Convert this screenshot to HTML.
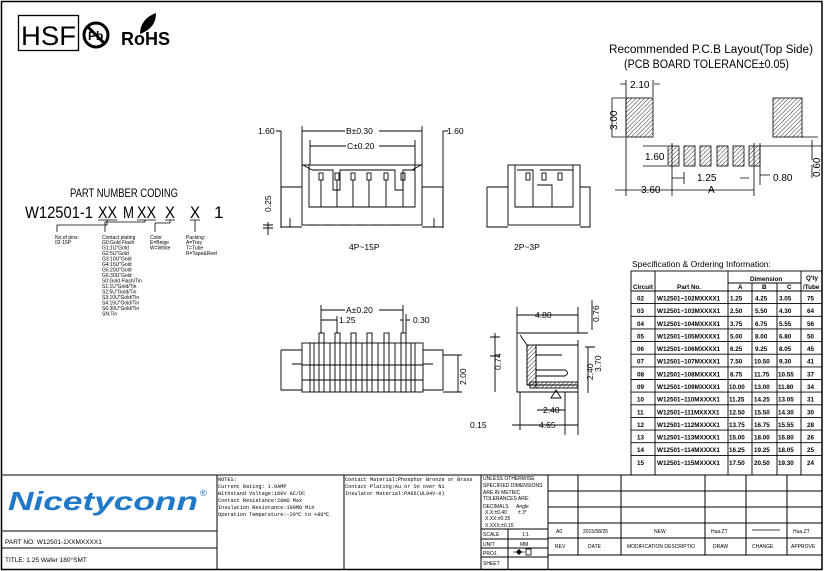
<!DOCTYPE html>
<html><head><meta charset="utf-8"><style>
html,body{margin:0;padding:0;background:#fff}
svg{display:block}
text{font-family:"Liberation Sans",sans-serif;fill:#000}
.m{font-family:"Liberation Mono",monospace;font-size:5.2px}
.d{font-size:8.5px}
.t{font-size:6.3px;font-weight:bold}
.s{font-size:5px}
</style></head><body>
<svg width="826" height="571" viewBox="0 0 826 571" xmlns="http://www.w3.org/2000/svg">
<defs>
<pattern id="h" width="3" height="3" patternUnits="userSpaceOnUse" patternTransform="rotate(45)"><line x1="0" y1="0" x2="0" y2="3" stroke="#000" stroke-width="0.8"/></pattern>
</defs>
<g fill="none" stroke="#000">
<rect x="1.5" y="1.5" width="820.5" height="568" stroke-width="1.5"/>
</g>
<!-- logos -->
<rect x="18.5" y="15.5" width="60" height="35" fill="none" stroke="#000" stroke-width="1.3"/>
<text x="21" y="45" style="font-size:27px" textLength="55" lengthAdjust="spacingAndGlyphs">HSF</text>
<circle cx="96" cy="35" r="12" fill="none" stroke="#000" stroke-width="3"/>
<text x="88" y="40" style="font-size:12px;font-weight:bold">Pb</text>
<line x1="88" y1="27" x2="104" y2="43" stroke="#000" stroke-width="3"/>
<text x="121" y="45" style="font-size:18px;font-weight:bold">RoHS</text>
<path d="M140 34 C140 22 148 16 156 13 C156 24 150 30 140 34Z" fill="#000"/>

<!-- PCB layout -->
<text x="609" y="53" style="font-size:11.5px" textLength="204" lengthAdjust="spacingAndGlyphs">Recommended P.C.B Layout(Top Side)</text>
<text x="624" y="68" style="font-size:11.5px" textLength="165" lengthAdjust="spacingAndGlyphs">(PCB BOARD TOLERANCE±0.05)</text>
<g stroke="#000" stroke-width="0.8">
<rect x="626" y="98" width="27" height="39" fill="url(#h)"/>
<rect x="773" y="98" width="29" height="39" fill="url(#h)"/>
<rect x="668" y="146" width="11" height="20" fill="url(#h)"/>
<rect x="684" y="146" width="11" height="20" fill="url(#h)"/>
<rect x="700" y="146" width="11" height="20" fill="url(#h)"/>
<rect x="717" y="146" width="11" height="20" fill="url(#h)"/>
<rect x="733" y="146" width="11" height="20" fill="url(#h)"/>
<rect x="749" y="146" width="11" height="20" fill="url(#h)"/>
<path d="M626 80V196M653 80V97M612 98H625M612 137H625M612 98V137M654 84H660M620 84H626M643 146H667M643 166H667M672 143V196M754 143V196M760 143V185M672 178H684M684 172V184M760 175H770M740 178H749M615 190H626M626 190H672M672 190H754M760 146H822M802 137H818M812 140V160M812 165V178" fill="none"/>
</g>
<text x="630" y="88" class="d" style="font-size:10px">2.10</text>
<text x="0" y="0" class="d" style="font-size:10px" transform="translate(617,130) rotate(-90)">3.00</text>
<text x="645" y="160" class="d" style="font-size:10px">1.60</text>
<text x="697" y="181" class="d" style="font-size:10px">1.25</text>
<text x="773" y="181" class="d" style="font-size:10px">0.80</text>
<text x="641" y="193" class="d" style="font-size:10px">3.60</text>
<text x="708" y="193" class="d" style="font-size:10px">A</text>
<text x="0" y="0" class="d" style="font-size:10px" transform="translate(820,177) rotate(-90)">0.60</text>

<!-- front view -->
<g stroke="#000" stroke-width="0.9" fill="none">
<rect x="302" y="165" width="120" height="60"/>
<path d="M309 165V207H415V165M312 170H333V190H340V170H395V190H403V170H415M303 165L312 170M421 165L412 170"/>
<path d="M281 187H302M281 187V227H302M290 218V227M443 187H422M443 187V227H422M434 218V227"/>
<g><rect x="319" y="173" width="4" height="7"/><rect x="335" y="173" width="4" height="7"/><rect x="351" y="173" width="4" height="7"/><rect x="367" y="173" width="4" height="7"/><rect x="384" y="173" width="4" height="7"/><rect x="401" y="173" width="4" height="7"/></g>
<path d="M321 180V207M337 180V207M353 180V207M369 180V207M386 180V207M403 180V207"/>
<path d="M281 131V228M302 126V165M422 126V165M443 131V228M276 131H281M302 131H422M443 131H448M310 140V165M415 140V165M310 146H415M268 222V235M263 228H273M263 225H273"/>
<path d="M308 225h10M324 225h10M340 225h10M356 225h10M373 225h10M390 225h10"/>
</g>
<text x="258" y="134" class="d">1.60</text><text x="447" y="134" class="d">1.60</text>
<rect x="345" y="127" width="34" height="8" fill="#fff"/><text x="346" y="134" class="d">B±0.30</text>
<rect x="346" y="142" width="33" height="8" fill="#fff"/><text x="347" y="149" class="d">C±0.20</text>
<text x="0" y="0" class="d" transform="translate(271,212) rotate(-90)">0.25</text>
<text x="349" y="250" class="d">4P~15P</text>
<!-- 2P~3P -->
<g stroke="#000" stroke-width="0.9" fill="none">
<rect x="508" y="165" width="72" height="60"/>
<path d="M515 165V207H573V165M517 170H533V207M540 170H573M537 185H552V207"/>
<path d="M487 187H508M487 187V227H508M580 187H590V227H580"/>
<rect x="526" y="173" width="4" height="7"/><rect x="542" y="173" width="4" height="7"/><rect x="558" y="173" width="4" height="7"/>
</g>
<text x="514" y="250" class="d">2P~3P</text>

<!-- bottom view -->
<g stroke="#000" stroke-width="0.9" fill="none">
<rect x="302" y="343" width="121" height="49"/>
<path d="M281 350H302M281 350V390H302M292 364H302M423 350H443V390H423M423 364H433"/>
<g><rect x="319" y="333" width="5" height="59"/><rect x="335" y="333" width="5" height="59"/><rect x="351" y="333" width="5" height="59"/><rect x="367" y="333" width="5" height="59"/><rect x="384" y="333" width="5" height="59"/><rect x="401" y="333" width="5" height="59"/></g>
<path d="M310 343V392M314 343V392M330 343V392M346 343V392M362 343V392M378 343V392M395 343V392M411 343V392M415 343V392M302 365H423M302 380H423"/>
<path d="M321 305V333M403 305V333M337 316V333M321 310H403M321 320H337M400 320H403M406 320H410M406 314V333M443 355H462M443 392H462M458 355V392"/>
</g>
<rect x="345" y="306" width="34" height="8" fill="#fff"/><text x="346" y="313" class="d">A±0.20</text>
<text x="339" y="323" class="d">1.25</text><text x="413" y="323" class="d">0.30</text>
<text x="0" y="0" class="d" transform="translate(466,385) rotate(-90)">2.00</text>
<!-- side view -->
<g stroke="#000" stroke-width="0.9" fill="none">
<path d="M517 333H588M517 333V392H578V340M517 307V333M578 307V333M517 315H578M520 335L527 345V385H578M536 345V388"/>
<rect x="527" y="345" width="9" height="40" fill="url(#h)"/>
<rect x="530" y="382" width="48" height="6" fill="url(#h)"/>
<path d="M536 345H578M536 355H562M536 370H565Q570 373 565 376H536M495 333V392M490 337H500M490 356H500M520 392V430M565 392V435M578 392V435M512 425H578M537 410H565M588 347V393M592 300V330M585 347H595"/>
<path d="M551 398L556 390L561 398Z"/>
</g>
<text x="535" y="318" class="d">4.80</text>
<text x="0" y="0" class="d" transform="translate(599,322) rotate(-90)">0.76</text>
<text x="0" y="0" class="d" transform="translate(501,370) rotate(-90)">0.74</text>
<text x="0" y="0" class="d" transform="translate(593,380) rotate(-90)">2.40</text>
<text x="0" y="0" class="d" transform="translate(601,372) rotate(-90)">3.70</text>
<text x="543" y="413" class="d">2.40</text>
<text x="539" y="428" class="d">4.65</text>
<text x="470" y="428" class="d">0.15</text>

<!-- part number coding -->
<text x="70" y="197" style="font-size:11.5px" textLength="108" lengthAdjust="spacingAndGlyphs">PART NUMBER CODING</text>
<text x="25" y="218" style="font-size:17px" textLength="68" lengthAdjust="spacingAndGlyphs">W12501-1</text>
<text x="98" y="218" style="font-size:17px" textLength="19" lengthAdjust="spacingAndGlyphs">XX</text>
<text x="123" y="218" style="font-size:17px" textLength="11" lengthAdjust="spacingAndGlyphs">M</text>
<text x="137" y="218" style="font-size:17px" textLength="19" lengthAdjust="spacingAndGlyphs">XX</text>
<text x="165" y="218" style="font-size:17px" textLength="10" lengthAdjust="spacingAndGlyphs">X</text>
<text x="190" y="218" style="font-size:17px" textLength="10" lengthAdjust="spacingAndGlyphs">X</text>
<text x="214" y="218" style="font-size:17px">1</text>
<g stroke="#000" stroke-width="0.8" fill="none">
<path d="M98 220H117M137 220H156M165 220H175M190 220H200M107 220V225H57V232M145 220V222H105V232M170 220V223H155V232M195 220V232"/>
</g>
<g class="s">
<text x="55" y="239" class="s">No.of pins:</text><text x="55" y="244" class="s">02-15P</text>
<text x="102" y="239" class="s">Contact plating</text>
<text x="102" y="244" class="s">G0:Gold Flash</text>
<text x="102" y="249.5" class="s">G1:1U"Gold</text>
<text x="102" y="255" class="s">G2:5U"Gold</text>
<text x="102" y="260.5" class="s">G3:10U"Gold</text>
<text x="102" y="266" class="s">G4:15U"Gold</text>
<text x="102" y="271.5" class="s">G5:20U"Gold</text>
<text x="102" y="277" class="s">G6:30U"Gold</text>
<text x="102" y="282.5" class="s">S0:Gold Flash/Tin</text>
<text x="102" y="288" class="s">S1:1U"Gold/Tin</text>
<text x="102" y="293.5" class="s">S2:5U"Gold/Tin</text>
<text x="102" y="299" class="s">S3:10U"Gold/Tin</text>
<text x="102" y="304.5" class="s">S4:15U"Gold/Tin</text>
<text x="102" y="310" class="s">S6:30U"Gold/Tin</text>
<text x="102" y="315.5" class="s">SN:Tin</text>
<text x="150" y="239" class="s">Color</text><text x="150" y="244" class="s">E=Beige</text><text x="150" y="249.5" class="s">W=White</text>
<text x="186" y="239" class="s">Packing:</text><text x="186" y="244" class="s">A=Tray</text><text x="186" y="249.5" class="s">T=Tube</text><text x="186" y="255" class="s">R=Tape&amp;Reel</text>
</g>

<!-- spec table -->
<text x="632" y="267" style="font-size:8.5px">Specification &amp; Ordering Information:</text>
<g stroke="#000" stroke-width="0.9" fill="none">
<rect x="631" y="271" width="191" height="204"/>
<path d="M655 271V475M728 271V475M752 283V475M777 283V475M801 271V475M728 283H801M631 291H822"/>
<path d="M631 303.6H822M631 316.3H822M631 328.9H822M631 341.6H822M631 354.2H822M631 366.9H822M631 379.5H822M631 392.1H822M631 404.8H822M631 417.4H822M631 430.1H822M631 442.7H822M631 455.4H822"/>
</g>
<text x="633" y="289" class="t">Circuit</text>
<text x="677" y="289" class="t">Part No.</text>
<text x="750" y="281" class="t">Dimension</text>
<text x="738" y="289" class="t">A</text><text x="762" y="289" class="t">B</text><text x="787" y="289" class="t">C</text>
<text x="806" y="280" class="t">Q'ty</text><text x="803" y="289" class="t">/Tube</text>
<g class="t">
<text x="637" y="300.5" class="t">02</text><text x="657" y="300.5" class="t">W12501−102MXXXX1</text><text x="730" y="300.5" class="t">1.25</text><text x="755" y="300.5" class="t">4.25</text><text x="779" y="300.5" class="t">3.05</text><text x="807" y="300.5" class="t">75</text>
<text x="637" y="313.1" class="t">03</text><text x="657" y="313.1" class="t">W12501−103MXXXX1</text><text x="730" y="313.1" class="t">2.50</text><text x="755" y="313.1" class="t">5.50</text><text x="779" y="313.1" class="t">4.30</text><text x="807" y="313.1" class="t">64</text>
<text x="637" y="325.8" class="t">04</text><text x="657" y="325.8" class="t">W12501−104MXXXX1</text><text x="730" y="325.8" class="t">3.75</text><text x="755" y="325.8" class="t">6.75</text><text x="779" y="325.8" class="t">5.55</text><text x="807" y="325.8" class="t">56</text>
<text x="637" y="338.4" class="t">05</text><text x="657" y="338.4" class="t">W12501−105MXXXX1</text><text x="730" y="338.4" class="t">5.00</text><text x="755" y="338.4" class="t">8.00</text><text x="779" y="338.4" class="t">6.80</text><text x="807" y="338.4" class="t">50</text>
<text x="637" y="351.1" class="t">06</text><text x="657" y="351.1" class="t">W12501−106MXXXX1</text><text x="730" y="351.1" class="t">6.25</text><text x="755" y="351.1" class="t">9.25</text><text x="779" y="351.1" class="t">8.05</text><text x="807" y="351.1" class="t">45</text>
<text x="637" y="363.7" class="t">07</text><text x="657" y="363.7" class="t">W12501−107MXXXX1</text><text x="730" y="363.7" class="t">7.50</text><text x="754" y="363.7" class="t">10.50</text><text x="779" y="363.7" class="t">9.30</text><text x="807" y="363.7" class="t">41</text>
<text x="637" y="376.4" class="t">08</text><text x="657" y="376.4" class="t">W12501−108MXXXX1</text><text x="730" y="376.4" class="t">8.75</text><text x="754" y="376.4" class="t">11.75</text><text x="778" y="376.4" class="t">10.55</text><text x="807" y="376.4" class="t">37</text>
<text x="637" y="389" class="t">09</text><text x="657" y="389" class="t">W12501−109MXXXX1</text><text x="729" y="389" class="t">10.00</text><text x="754" y="389" class="t">13.00</text><text x="778" y="389" class="t">11.80</text><text x="807" y="389" class="t">34</text>
<text x="637" y="401.6" class="t">10</text><text x="657" y="401.6" class="t">W12501−110MXXXX1</text><text x="729" y="401.6" class="t">11.25</text><text x="754" y="401.6" class="t">14.25</text><text x="778" y="401.6" class="t">13.05</text><text x="807" y="401.6" class="t">31</text>
<text x="637" y="414.3" class="t">11</text><text x="657" y="414.3" class="t">W12501−111MXXXX1</text><text x="729" y="414.3" class="t">12.50</text><text x="754" y="414.3" class="t">15.50</text><text x="778" y="414.3" class="t">14.30</text><text x="807" y="414.3" class="t">30</text>
<text x="637" y="426.9" class="t">12</text><text x="657" y="426.9" class="t">W12501−112MXXXX1</text><text x="729" y="426.9" class="t">13.75</text><text x="754" y="426.9" class="t">16.75</text><text x="778" y="426.9" class="t">15.55</text><text x="807" y="426.9" class="t">28</text>
<text x="637" y="439.6" class="t">13</text><text x="657" y="439.6" class="t">W12501−113MXXXX1</text><text x="729" y="439.6" class="t">15.00</text><text x="754" y="439.6" class="t">18.00</text><text x="778" y="439.6" class="t">16.80</text><text x="807" y="439.6" class="t">26</text>
<text x="637" y="452.2" class="t">14</text><text x="657" y="452.2" class="t">W12501−114MXXXX1</text><text x="729" y="452.2" class="t">16.25</text><text x="754" y="452.2" class="t">19.25</text><text x="778" y="452.2" class="t">18.05</text><text x="807" y="452.2" class="t">25</text>
<text x="637" y="464.9" class="t">15</text><text x="657" y="464.9" class="t">W12501−115MXXXX1</text><text x="729" y="464.9" class="t">17.50</text><text x="754" y="464.9" class="t">20.50</text><text x="778" y="464.9" class="t">19.30</text><text x="807" y="464.9" class="t">24</text>
</g>

<!-- title block -->
<g stroke="#000" stroke-width="1" fill="none">
<path d="M1 475H822"/>
<path d="M217 475V570M344 475V570M481 475V570M548 475V570M2 531H217M2 548H217"/>
<path d="M481 529H548M481 539H548M481 548H548M481 557H548M508 529V570"/>
<path d="M548 491H822M548 507H822M548 523H822M548 538H822M548 555H822M578 475V555M621 475V555M705 475V555M746 475V555M787 475V555"/>
</g>
<text x="8" y="510" style="font-size:26px;font-weight:bold;font-style:italic;fill:#1f78c8" textLength="190" lengthAdjust="spacingAndGlyphs">Nicetyconn</text>
<text x="200" y="496" style="font-size:9px;fill:#1f78c8">®</text>
<text x="5" y="544" style="font-size:6.5px">PART NO: W12501-1XXMXXXX1</text>
<text x="5" y="562" style="font-size:6.5px">TITLE: 1.25 Wafer 180°SMT</text>
<text x="218" y="481" class="m">NOTES:</text>
<text x="218" y="488" class="m">Current Rating: 1.0AMP</text>
<text x="218" y="495" class="m">Withstand Voltage:100V AC/DC</text>
<text x="218" y="502" class="m">Contact Resistance:20mΩ Max</text>
<text x="218" y="509" class="m">Insulation Resistance:100MΩ Min</text>
<text x="218" y="516" class="m">Operation Temperature:-20℃ to +80℃</text>
<text x="345" y="481" class="m">Contact Material:Phosphor Bronze or Brass</text>
<text x="345" y="488" class="m">Contact Plating:Au or Sn over Ni</text>
<text x="345" y="495" class="m">Insulator Material:PA66(UL94V-0)</text>
<g style="font-size:5px">
<text x="483" y="480" style="font-size:5px">UNLESS OTHERWISE</text>
<text x="483" y="487" style="font-size:5px">SPECIFIED DIMENSIONS</text>
<text x="483" y="494" style="font-size:5px">ARE IN METRIC</text>
<text x="483" y="500" style="font-size:5px">TOLERANCES ARE:</text>
<text x="483" y="508" style="font-size:5px">DECIMALS</text><text x="516" y="508" style="font-size:5px">Angle</text>
<text x="485" y="514" style="font-size:5px">X.X:±0.40</text><text x="518" y="514" style="font-size:5px">± 3°</text>
<text x="485" y="520" style="font-size:5px">X.XX:±0.25</text>
<text x="485" y="527" style="font-size:5px">X.XXX:±0.15</text>
<text x="483" y="536" style="font-size:5px">SCALE</text><text x="522" y="536" style="font-size:5px">1:1</text>
<text x="483" y="546" style="font-size:5px">UNIT</text><text x="520" y="546" style="font-size:5px">MM</text>
<text x="483" y="555" style="font-size:5px">PROJ.</text>
<text x="483" y="565" style="font-size:5px">SHEET</text>
<text x="556" y="533" style="font-size:5px">A0</text>
<text x="583" y="533" style="font-size:5px">2015/08/25</text>
<text x="654" y="533" style="font-size:5px">NEW</text>
<text x="711" y="533" style="font-size:5px">Hua.ZT</text>
<text x="793" y="533" style="font-size:5px">Hua.ZT</text>
<text x="555" y="548" style="font-size:5px">REV</text>
<text x="588" y="548" style="font-size:5px">DATE</text>
<text x="627" y="548" style="font-size:5px">MODIFICATION DESCRIPTIO</text>
<text x="713" y="548" style="font-size:5px">DRAW</text>
<text x="752" y="548" style="font-size:5px">CHANGE</text>
<text x="791" y="548" style="font-size:5px">APPROVE</text>
</g>
<line x1="752" y1="530" x2="780" y2="530" stroke="#000" stroke-width="0.8"/>
<path d="M516 552L519 549L522 552L519 555Z" fill="#000"/><line x1="513" y1="552" x2="525" y2="552" stroke="#000" stroke-width="0.6"/>
<rect x="526" y="549" width="5" height="6" fill="none" stroke="#000" stroke-width="0.8"/>
</svg>
</body></html>
